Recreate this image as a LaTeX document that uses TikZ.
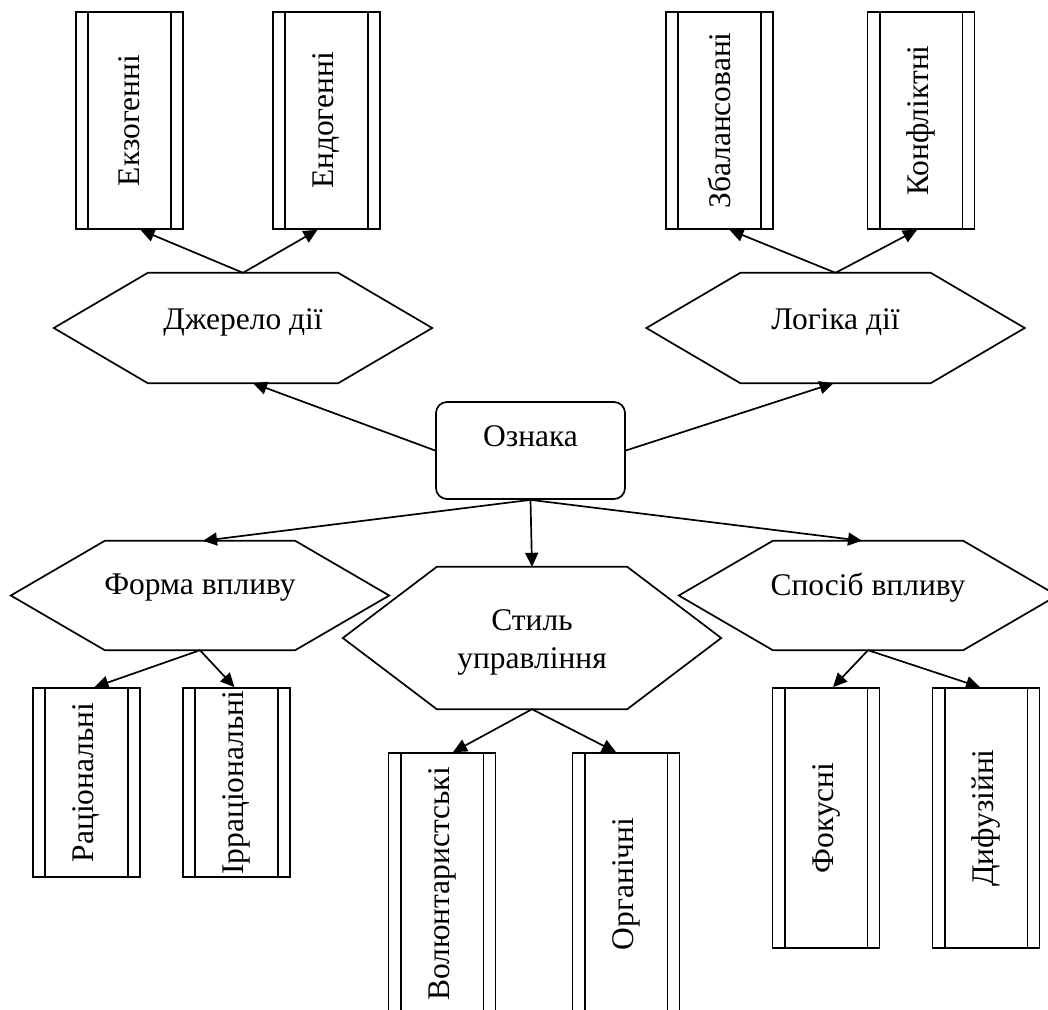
\documentclass[tikz,border=0pt]{standalone}
\usepackage{fontspec}
\setmainfont{Liberation Serif}
\usepackage{graphicx}
\usetikzlibrary{arrows.meta,calc}
\newcommand\hexpath[1]{%
  \draw[lw] (#1.west) -- ([xshift=94pt]#1.north west) -- ([xshift=-94pt]#1.north east)
   -- (#1.east) -- ([xshift=-94pt]#1.south east) -- ([xshift=94pt]#1.south west) -- cycle;}
\begin{document}
\begin{tikzpicture}[x=1pt,y=-1pt,
  lw/.style={line width=1.7pt, line join=miter},
  txt/.style={font=\fontsize{31.5}{38}\selectfont, inner sep=0pt, align=center},
  hexa/.style={inner sep=0pt, draw=none, minimum width=378pt},
  catbox/.style={draw, lw, minimum width=107pt, minimum height=#1, inner sep=0pt,
    font=\fontsize{31.5}{38}\selectfont,
    append after command={
      ([xshift=13pt]\tikzlastnode.north west) edge[draw, lw] ([xshift=13pt]\tikzlastnode.south west)
      ([xshift=-13pt]\tikzlastnode.north east) edge[draw, lw] ([xshift=-13pt]\tikzlastnode.south east)}},
  rootbox/.style={draw, lw, rounded corners=11pt, minimum width=189pt, minimum height=97pt, inner sep=0pt},
  arr/.style={lw, -{Triangle[length=14pt,width=13pt]}}
]
\useasboundingbox (0,0) rectangle (1048,1009);

% root
\node[rootbox] (oz) at (530.5,450.5) {};
\node[txt] (ozt) at (530.5,436) {Ознака};

% hexagons
\node[hexa, minimum height=110pt] (h1) at (243,328) {};
\hexpath{h1}
\node[txt] (h1t) at (243,322) {Джерело дії};
\node[hexa, minimum height=110pt] (h2) at (835.5,328) {};
\hexpath{h2}
\node[txt] (h2t) at (835.5,322) {Логіка дії};
\node[hexa, minimum height=109pt] (h3) at (200,595.5) {};
\hexpath{h3}
\node[txt] (h3t) at (200,588) {Форма впливу};
\node[hexa, minimum height=142pt] (h4) at (532,638) {};
\hexpath{h4}
\node[txt] (h4t) at (532,642) {Стиль\\управління};
\node[hexa, minimum height=109pt] (h5) at (868,595.5) {};
\hexpath{h5}
\node[txt] (h5t) at (868,588) {Спосіб впливу};

% boxes
\node[catbox=217pt] (b1) at (129.5,120.5) {\rotatebox{90}{Екзогенні}};
\node[catbox=217pt] (b2) at (326.5,120.5) {\rotatebox{90}{Ендогенні}};
\node[catbox=217pt] (b3) at (719.5,120.5) {\rotatebox{90}{Збалансовані}};
\node[catbox=217pt] (b4) at (921,120.5) {\rotatebox{90}{Конфліктні}};
\node[catbox=189pt] (b5) at (86.5,782.5) {\rotatebox{90}{Раціональні}};
\node[catbox=189pt] (b6) at (236.5,782.5) {\rotatebox{90}{Ірраціональні}};
\node[catbox=262pt] (b7) at (442,884) {\rotatebox{90}{Волюнтаристські}};
\node[catbox=262pt] (b8) at (626,884) {\rotatebox{90}{Органічні}};
\node[catbox=260pt] (b9) at (826,818) {\rotatebox{90}{Фокусні}};
\node[catbox=260pt] (b10) at (986,818) {\rotatebox{90}{Дифузійні}};

% connectors
\draw[arr] (h1.north) -- ([xshift=11pt]b1.south);
\draw[arr] (h1.north) -- ([xshift=-9pt]b2.south);
\draw[arr] (h2.north) -- ([xshift=10pt]b3.south);
\draw[arr] (h2.north) -- ([xshift=-4pt]b4.south);
\draw[arr] (h3.south) -- ([xshift=8pt]b5.north);
\draw[arr] (h3.south) -- ([xshift=-2pt]b6.north);
\draw[arr] (h4.south) -- ([xshift=11pt]b7.north);
\draw[arr] (h4.south) -- ([xshift=-10pt]b8.north);
\draw[arr] (h5.south) -- ([xshift=7pt]b9.north);
\draw[arr] (h5.south) -- ([xshift=-6pt]b10.north);
\draw[arr] (oz.west) -- ([xshift=10pt]h1.south);
\draw[arr] (oz.east) -- ([xshift=-2pt]h2.south);
\draw[arr] (oz.south) -- ([xshift=3pt]h3.north);
\draw[arr] (oz.south) -- (h4.north);
\draw[arr] (oz.south) -- ([xshift=-6pt]h5.north);
\end{tikzpicture}
\end{document}
